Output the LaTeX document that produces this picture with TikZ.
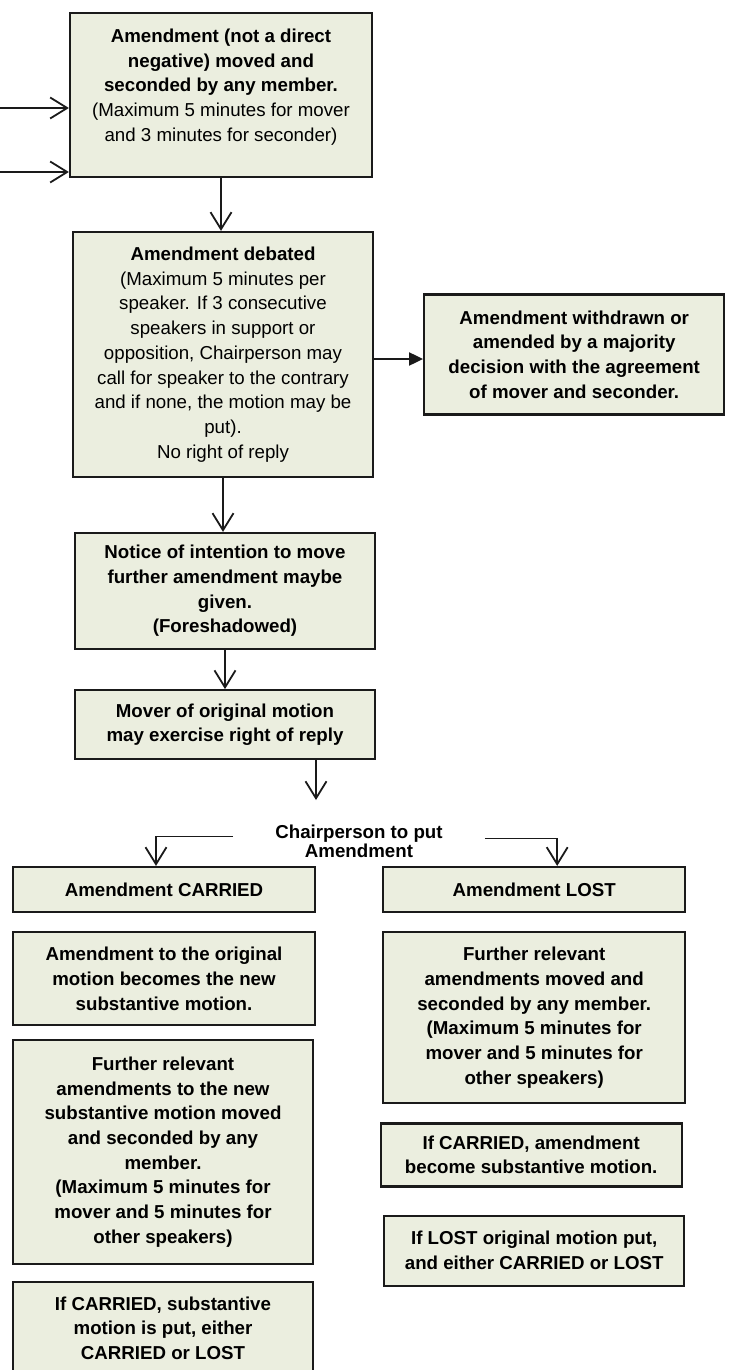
\documentclass[tikz,border=0pt]{standalone}
\usepackage{fontspec}
\setmainfont{Liberation Sans}
\usetikzlibrary{arrows.meta,positioning}
\definecolor{boxfill}{HTML}{EBEEDF}
\definecolor{boxline}{HTML}{1A1A1A}
\tikzset{
  stagebox/.style={draw=boxline, line width=2.2pt, fill=boxfill, align=center,
    inner sep=0pt, font=\bfseries\fontsize{18.7}{24.7}\selectfont},
  chairtext/.style={align=center, inner ysep=0pt, inner xsep=42pt,
    font=\bfseries\fontsize{18.7}{15}\selectfont},
  openarr/.style={-{Straight Barb[length=17pt,width=21pt]}, line width=1.8pt, draw=boxline},
  solidarr/.style={-{Triangle[length=14pt,width=13pt]}, line width=2pt, draw=boxline}
}
\begin{document}
\begin{tikzpicture}[x=1pt,y=-1pt]
  \useasboundingbox (0,0) rectangle (728,1370);
  % upper column
  \node[stagebox, minimum width=302pt, minimum height=164pt, text depth=20pt] (amend) at (221,95)
    {Amendment (not a direct\\negative) moved and\\seconded by any member.\\
     \mdseries (Maximum 5 minutes for mover\\\mdseries and 3 minutes for seconder)};
  \node[stagebox, minimum width=300pt, minimum height=245pt] (debate) at (223,354.5)
    {Amendment debated\\\mdseries (Maximum 5 minutes per\\\mdseries speaker. If 3 consecutive\\
     \mdseries speakers in support or\\\mdseries opposition, Chairperson may\\
     \mdseries call for speaker to the contrary\\\mdseries and if none, the motion may be\\
     \mdseries put).\\\mdseries No right of reply};
  \node[stagebox, minimum width=300pt, minimum height=120pt, right=49pt of debate] (withdraw)
    {Amendment withdrawn or\\amended by a majority\\decision with the agreement\\of mover and seconder.};
  \node[stagebox, minimum width=300pt, minimum height=116pt] (notice) at (225,591)
    {Notice of intention to move\\further amendment maybe\\given.\\(Foreshadowed)};
  \node[stagebox, minimum width=300pt, minimum height=69pt, below=39pt of notice] (mover)
    {Mover of original motion\\may exercise right of reply};
  \node[chairtext] (chair) at (359,841.5) {Chairperson to put\\Amendment};
  \coordinate (in1) at (0,108);
  \coordinate (in2) at (0,172);
  \coordinate (chairtop) at (316,800);

  % carried side
  \node[stagebox, minimum width=302pt, minimum height=45pt] (carried) at (164,889.5) {Amendment CARRIED};
  \node[stagebox, minimum width=302pt, minimum height=93pt, below=18pt of carried] (newmotion)
    {Amendment to the original\\motion becomes the new\\substantive motion.};
  \node[stagebox, minimum width=300pt, minimum height=224pt] (furtherl) at (163,1152)
    {Further relevant\\amendments to the new\\substantive motion moved\\and seconded by any\\member.\\
     (Maximum 5 minutes for\\mover and 5 minutes for\\other speakers)};
  \node[stagebox, minimum width=300pt, minimum height=92pt] (putsub) at (163,1328)
    {If CARRIED, substantive\\motion is put, either\\CARRIED or LOST};

  % lost side
  \node[stagebox, minimum width=302pt, minimum height=45pt, right=66pt of carried] (lost) {Amendment LOST};
  \node[stagebox, minimum width=302pt, minimum height=171pt, below=18pt of lost] (furtherr)
    {Further relevant\\amendments moved and\\seconded by any member.\\(Maximum 5 minutes for\\
     mover and 5 minutes for\\other speakers)};
  \node[stagebox, minimum width=301pt, minimum height=63pt, below=18pt of furtherr, xshift=-3pt] (ifcarr)
    {If CARRIED, amendment\\become substantive motion.};
  \node[stagebox, minimum width=300pt, minimum height=70pt, below=27pt of ifcarr, xshift=3pt] (iflost)
    {If LOST original motion put,\\and either CARRIED or LOST};

  % connectors
  \draw[openarr] (in1) -- (in1 -| amend.west);
  \draw[openarr] (in2) -- (in2 -| amend.west);
  \draw[openarr] (amend.south) -- (amend.south |- debate.north);
  \draw[solidarr] ([yshift=-4.5pt]debate.east) -- ([yshift=-4.5pt]withdraw.west);
  \draw[openarr] (debate.south) -- (debate.south |- notice.north);
  \draw[openarr] (notice.south) -- (notice.south |- mover.north);
  \draw[openarr] (mover.south -| chairtop) -- (chairtop);
  \draw[openarr] ([yshift=5pt]chair.west) -| ([xshift=-8pt]carried.north);
  \draw[openarr] ([yshift=3pt]chair.east) -| ([xshift=23pt]lost.north);
\end{tikzpicture}
\end{document}
